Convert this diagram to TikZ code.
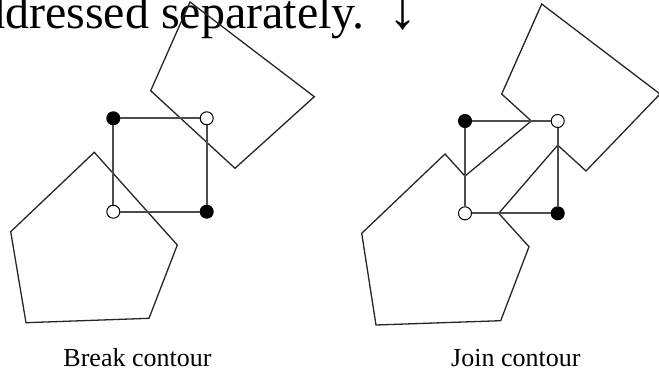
\documentclass[tikz,border=0pt]{standalone}
\usepackage{fontspec}
\setmainfont{Liberation Serif}
\usetikzlibrary{calc}
\tikzset{
    contour/.style={draw=black!85, line width=1.3bp, line join=miter},
    cell/.style={draw=black!70, line width=2bp},
    ondot/.style={circle, draw=black, fill=black, line width=1bp,
        inner sep=0pt, minimum size=13bp},
    offdot/.style={ondot, fill=white},
    caption/.style={font=\fontsize{26bp}{30bp}\selectfont, anchor=base}
}

\begin{document}
\begin{tikzpicture}[x=1bp, y=-1bp]
    \clip (0,0) rectangle (659,371);
    \node[font=\fontsize{48bp}{52bp}\selectfont, anchor=base west, inner sep=0pt]
        (head) at (-19,28) {ddressed separately.\hspace{24bp}{\fontsize{58bp}{58bp}\selectfont↓}};

    % break contour
    \begin{scope}[shift={(113.3,118.3)}]
        \draw[contour] (76.7,-116.3) -- (201,-21.6) -- (121.7,50) -- (37.4,-27.6) -- cycle;
        \draw[contour] (-19,34) -- (64,126.7) -- (35.7,200) -- (-87.3,204.4)
            -- (-102.6,113.4) -- cycle;
        \node[ondot]  (bTL) at (0,0) {};
        \node[offdot] (bTR) at (93.4,0) {};
        \node[ondot]  (bBR) at (93.4,93.4) {};
        \node[offdot] (bBL) at (0,93.4) {};
        \draw[cell] (bTL) -- (bTR) -- (bBR) -- (bBL) -- (bTL);
        \node[caption] (bcap) at (24.2,247.7) {Break contour};
    \end{scope}

    % join contour
    \begin{scope}[shift={(465,121)}]
        \coordinate (qt) at (76.7,-117);
        \coordinate (qr) at (195,-27);
        \coordinate (qb) at (121,50);
        \coordinate (ql) at (36.7,-27);
        \coordinate (pa) at (-20,33);
        \coordinate (pb) at (64,125.7);
        \coordinate (pc) at (35.7,199.7);
        \coordinate (pd) at (-89,204);
        \coordinate (pe) at (-103.3,112.3);
        \coordinate (tl) at (0,0);
        \coordinate (tr) at (92.7,0);
        \coordinate (br) at (92.7,92.3);
        \coordinate (bl) at (0,92.3);
        \coordinate (jS) at (intersection of ql--qb and tl--tr);
        \coordinate (jP) at (intersection of ql--qb and tr--br);
        \coordinate (jR) at (intersection of pa--pb and tl--bl);
        \coordinate (jQ) at (intersection of pa--pb and bl--br);
        \draw[contour] (qt) -- (qr) -- (qb) -- (jP) -- (jQ) -- (pb) -- (pc) -- (pd)
            -- (pe) -- (pa) -- (jR) -- (jS) -- (ql) -- cycle;
        \node[ondot]  (jTL) at (tl) {};
        \node[offdot] (jTR) at (tr) {};
        \node[ondot]  (jBR) at (br) {};
        \node[offdot] (jBL) at (bl) {};
        \draw[cell] (jTL) -- (jTR) -- (jBR) -- (jBL) -- (jTL);
        \node[caption] (jcap) at (50.8,245) {Join contour};
    \end{scope}
\end{tikzpicture}
\end{document}
